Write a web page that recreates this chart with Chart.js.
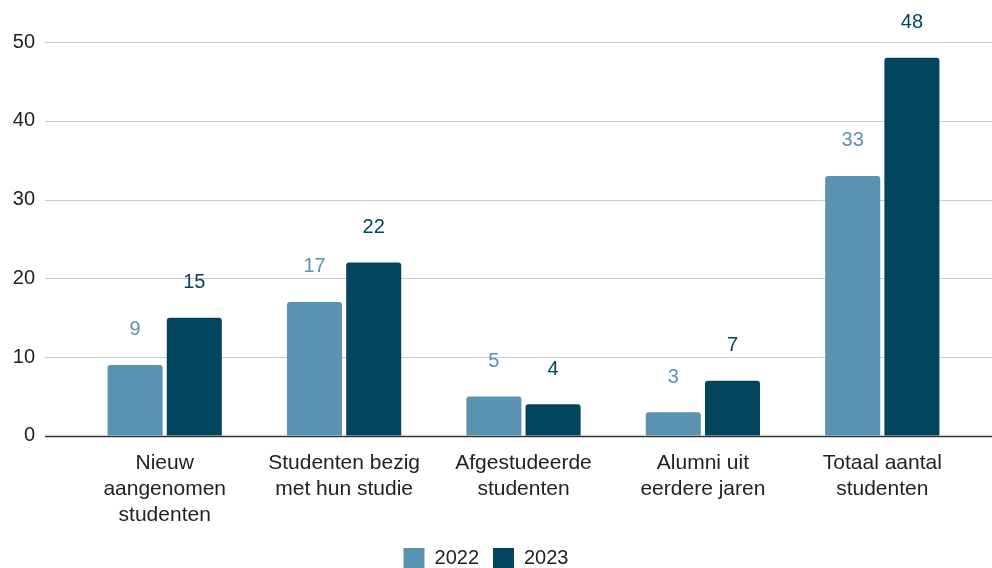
<!DOCTYPE html>
<html>
<head>
<meta charset="utf-8">
<script src="https://cdn.jsdelivr.net/npm/chart.js@4"></script>
<style>
  html, body { margin: 0; padding: 0; background: #fff; }
  #wrap { width: 992px; height: 568px; position: relative; }
</style>
</head>
<body>
<div id="wrap"><canvas id="Chart"></canvas></div>
<script>
const categories = [
  ["Nieuw", "aangenomen", "studenten"],
  ["Studenten bezig", "met hun studie"],
  ["Afgestudeerde", "studenten"],
  ["Alumni uit", "eerdere jaren"],
  ["Totaal aantal", "studenten"],
];
const values2022 = [9, 17, 5, 3, 33];
const values2023 = [15, 22, 4, 7, 48];
const seriesNames = ["2022", "2023"];
const yTicks = [0, 10, 20, 30, 40, 50];

const lightBlue = "#5a93b1";
const darkBlue = "#03455f";
const FONT = "'Liberation Sans', Arial, sans-serif";

// grid lines run wider than the category area, so draw them ourselves
const wideGrid = {
  id: "wideGrid",
  beforeDatasetsDraw(chart) {
    const { ctx, scales } = chart;
    const y = scales.y;
    ctx.save();
    yTicks.forEach((v) => {
      const py = Math.round(y.getPixelForValue(v)) + 0.5;
      ctx.beginPath();
      ctx.lineWidth = v === 0 ? 1.5 : 1.2;
      ctx.strokeStyle = v === 0 ? "#333333" : "#cccccc";
      ctx.moveTo(y.right - 30, py);
      ctx.lineTo(chart.width, py);
      ctx.stroke();
    });
    ctx.restore();
  },
};

// value labels above each bar
const barLabels = {
  id: "barLabels",
  afterDatasetsDraw(chart) {
    const { ctx } = chart;
    ctx.save();
    ctx.font = "20px " + FONT;
    ctx.textAlign = "center";
    ctx.textBaseline = "middle";
    chart.data.datasets.forEach((ds, i) => {
      const meta = chart.getDatasetMeta(i);
      ctx.fillStyle = ds.backgroundColor;
      meta.data.forEach((bar, j) => {
        ctx.fillText(String(ds.data[j]), bar.x, bar.y - 35);
      });
    });
    ctx.restore();
  },
};

const ctx = document.getElementById("Chart").getContext("2d");
new Chart(ctx, {
  type: "bar",
  data: {
    labels: categories,
    datasets: [
      {
        label: seriesNames[0],
        data: values2022,
        backgroundColor: lightBlue,
        borderRadius: 3,
        borderSkipped: "bottom",
        categoryPercentage: 0.66,
        barPercentage: 0.93,
      },
      {
        label: seriesNames[1],
        data: values2023,
        backgroundColor: darkBlue,
        borderRadius: 3,
        borderSkipped: "bottom",
        categoryPercentage: 0.66,
        barPercentage: 0.93,
      },
    ],
  },
  options: {
    responsive: true,
    maintainAspectRatio: false,
    animation: false,
    layout: { padding: { top: 42, right: 20, left: 0, bottom: -11 } },
    plugins: {
      tooltip: { enabled: false },
      legend: {
        position: "bottom",
        labels: {
          font: { family: FONT, size: 20 },
          color: "#222222",
          boxWidth: 21,
          boxHeight: 21,
          padding: 14,
        },
      },
    },
    scales: {
      x: {
        grid: { display: false },
        border: { display: false },
        ticks: {
          color: "#222222",
          font: { family: FONT, size: 21, lineHeight: 1.24 },
          padding: 6,
          maxRotation: 0,
        },
      },
      y: {
        min: 0,
        max: 50,
        grid: { color: "rgba(0,0,0,0)", drawTicks: true, tickLength: 30 },
        border: { display: false },
        afterFit(scale) { scale.width = 75; },
        ticks: {
          stepSize: 10,
          color: "#222222",
          font: { family: FONT, size: 20 },
          padding: 10,
        },
      },
    },
  },
  plugins: [wideGrid, barLabels],
});
</script>
</body>
</html>
